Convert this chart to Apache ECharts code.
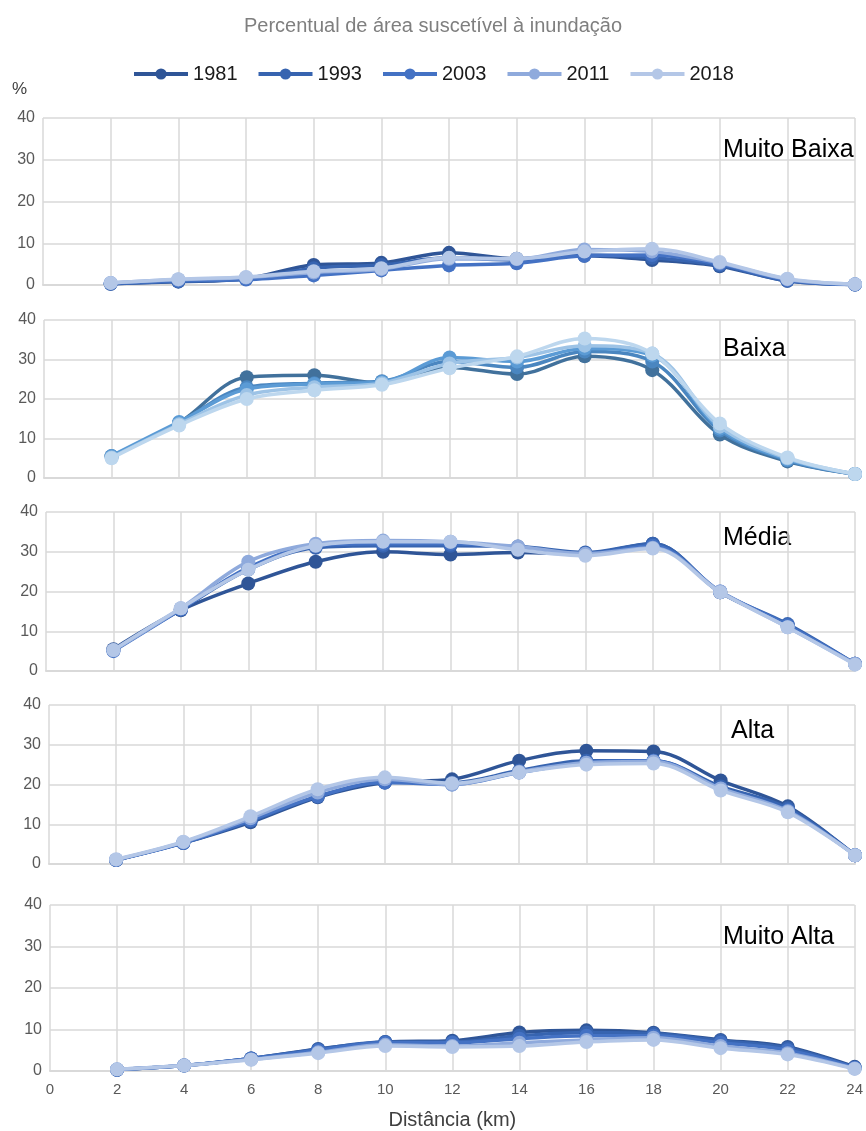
<!DOCTYPE html>
<html>
<head>
<meta charset="utf-8">
<script src="https://cdn.jsdelivr.net/npm/echarts@6/dist/echarts.min.js"></script>
<style>
html,body{margin:0;padding:0;background:#fff;}
#c{width:866px;height:1131px;}
</style>
</head>
<body>
<div id="c"></div>
<script>
// ---- data ----
const distances = [2, 4, 6, 8, 10, 12, 14, 16, 18, 20, 22, 24];
const years = ['1981', '1993', '2003', '2011', '2018'];
const panelNames = ['Muito Baixa', 'Baixa', 'Média', 'Alta', 'Muito Alta'];
const yTicks = [0, 10, 20, 30, 40];
const xTicks = [0, 2, 4, 6, 8, 10, 12, 14, 16, 18, 20, 22, 24];

// Muito Baixa
const mb1981 = [0.3, 0.8, 1.5, 4.8, 5.3, 7.7, 6.3, 7.0, 6.0, 4.5, 1.0, 0.1];
const mb1993 = [0.3, 0.9, 1.5, 4.0, 4.8, 6.5, 6.0, 7.2, 6.5, 4.7, 1.0, 0.1];
const mb2003 = [0.4, 1.0, 1.3, 2.3, 3.5, 4.7, 5.2, 7.0, 7.2, 5.0, 1.2, 0.1];
const mb2011 = [0.5, 1.3, 1.8, 3.0, 3.8, 6.3, 6.2, 8.5, 8.0, 5.3, 1.4, 0.2];
const mb2018 = [0.5, 1.4, 1.9, 3.3, 4.0, 6.5, 6.3, 8.0, 8.7, 5.5, 1.5, 0.2];
// Baixa
const b1981 = [5.5, 14.0, 25.5, 26.0, 24.0, 28.0, 26.3, 30.8, 27.3, 11.0, 4.2, 1.0];
const b1993 = [5.5, 14.0, 23.0, 24.0, 24.5, 29.5, 28.0, 32.0, 29.5, 12.0, 4.5, 1.0];
const b2003 = [5.6, 14.2, 22.5, 23.8, 24.3, 30.5, 29.5, 32.8, 31.0, 12.5, 4.7, 1.0];
const b2011 = [5.2, 13.6, 21.0, 23.0, 24.0, 29.0, 30.5, 33.5, 31.5, 13.0, 5.0, 1.0];
const b2018 = [5.0, 13.3, 20.0, 22.2, 23.6, 27.8, 30.8, 35.3, 31.5, 13.8, 5.2, 1.0];
// Média
const m1981 = [5.5, 15.3, 22.0, 27.5, 30.0, 29.3, 29.8, 29.5, 32.0, 19.8, 11.5, 1.8];
const m1993 = [5.2, 15.5, 25.5, 31.0, 31.5, 31.5, 31.3, 29.8, 32.0, 19.8, 11.8, 1.8];
const m2003 = [5.0, 15.5, 26.0, 31.5, 32.0, 32.0, 31.0, 29.5, 31.5, 20.0, 11.5, 1.8];
const m2011 = [5.2, 15.8, 27.5, 32.0, 32.8, 32.5, 31.3, 29.5, 31.0, 20.0, 11.0, 1.8];
const m2018 = [5.3, 15.8, 25.5, 31.5, 32.5, 32.5, 30.5, 29.0, 30.8, 19.8, 11.0, 1.6];
// Alta
const a1981 = [1.0, 5.3, 10.5, 16.8, 20.5, 21.3, 26.0, 28.5, 28.3, 21.0, 14.5, 2.2];
const a1993 = [1.0, 5.3, 10.8, 17.0, 20.5, 20.5, 23.5, 26.0, 26.0, 19.5, 14.0, 2.2];
const a2003 = [1.0, 5.3, 11.0, 17.0, 20.5, 20.0, 23.0, 25.5, 26.0, 19.0, 13.5, 2.2];
const a2011 = [1.1, 5.5, 11.5, 18.0, 21.3, 20.0, 23.2, 25.5, 25.8, 19.0, 13.3, 2.2];
const a2018 = [1.2, 5.6, 12.0, 18.8, 21.8, 20.3, 23.0, 25.0, 25.3, 18.5, 13.0, 2.2];
// Muito Alta
const ma1981 = [0.3, 1.3, 3.0, 5.3, 7.0, 7.3, 9.3, 9.8, 9.2, 7.5, 5.8, 1.0];
const ma1993 = [0.3, 1.3, 3.0, 5.2, 7.0, 7.0, 8.5, 9.3, 9.0, 7.3, 5.5, 0.8];
const ma2003 = [0.3, 1.3, 3.0, 5.0, 6.8, 6.8, 7.8, 8.5, 8.5, 6.8, 5.0, 0.8];
const ma2011 = [0.4, 1.4, 2.8, 4.5, 6.3, 6.0, 6.8, 7.5, 8.0, 6.0, 4.3, 0.6];
const ma2018 = [0.4, 1.3, 2.7, 4.3, 6.0, 5.8, 6.0, 7.0, 7.5, 5.5, 4.0, 0.5];

const panelData = [
  [mb1981, mb1993, mb2003, mb2011, mb2018],
  [b1981, b1993, b2003, b2011, b2018],
  [m1981, m1993, m2003, m2011, m2018],
  [a1981, a1993, a2003, a2011, a2018],
  [ma1981, ma1993, ma2003, ma2011, ma2018]
];

// ---- styles ----
const FONT = 'Liberation Sans, Arial, sans-serif';
const mainColors = ['#2F5597', '#3764B0', '#4472C4', '#8FAADC', '#B4C7E7'];
const baixaColors = ['#41719C', '#4A86C0', '#5B9BD5', '#9DC3E6', '#BDD7EE'];
const panelColors = [mainColors, baixaColors, mainColors, mainColors, mainColors];
const grids = [
  {left: 43, top: 118, height: 167},
  {left: 44, top: 320, height: 158},
  {left: 46, top: 512, height: 159},
  {left: 49, top: 705, height: 159},
  {left: 50, top: 905, height: 170}
];
const labelPos = [
  {x: 723, y: 150}, {x: 723, y: 349}, {x: 723, y: 538}, {x: 731, y: 731}, {x: 723, y: 937}
];

const option = {
  backgroundColor: '#fff',
  animation: false,
  title: {
    text: 'Percentual de área suscetível à inundação',
    left: 'center', top: 11,
    textStyle: {fontFamily: FONT, fontSize: 20, fontWeight: 'normal', color: '#7F7F7F'}
  },
  legend: {
    top: 59, left: 'center',
    itemWidth: 54, itemHeight: 14, itemGap: 19,
    lineStyle: {width: 4},
    textStyle: {fontFamily: FONT, fontSize: 20, color: '#1A1A1A'},
    data: years.map(y => ({name: y}))
  },
  grid: grids.map(g => ({left: g.left, right: 11, top: g.top, height: g.height, containLabel: false})),
  xAxis: grids.map((g, i) => ({
    type: 'value', gridIndex: i, min: 0, max: 24, interval: 2,
    axisLine: {show: true, lineStyle: {color: '#D9D9D9', width: 2}},
    axisTick: {show: false},
    axisLabel: {show: i === 4, color: '#595959', fontFamily: FONT, fontSize: 15, margin: 11},
    splitLine: {show: true, lineStyle: {color: '#D9D9D9', width: 1.5}},
    name: i === 4 ? 'Distância (km)' : '',
    nameLocation: 'middle', nameGap: 39,
    nameTextStyle: {fontFamily: FONT, fontSize: 20, color: '#404040'}
  })),
  yAxis: grids.map((g, i) => ({
    type: 'value', gridIndex: i, min: 0, max: 40, interval: 10,
    axisLine: {show: false}, axisTick: {show: false},
    axisLabel: {color: '#595959', fontFamily: FONT, fontSize: 16, margin: 8},
    splitLine: {show: true, lineStyle: {color: '#D9D9D9', width: 1.5}}
  })),
  graphic: [
    {type: 'text', left: 12, top: 81, style: {text: '%', fontFamily: FONT, fontSize: 17, fill: '#404040'}}
  ].concat(panelNames.map((n, i) => ({
    type: 'text', left: labelPos[i].x, top: labelPos[i].y - 12,
    style: {text: n, fontFamily: FONT, fontSize: 25, fill: '#000'}
  }))),
  series: []
};

panelData.forEach((sets, p) => {
  sets.forEach((vals, k) => {
    option.series.push({
      name: years[k], type: 'line', xAxisIndex: p, yAxisIndex: p,
      data: distances.map((d, j) => [d, vals[j]]),
      smooth: 0.35, symbol: 'circle', symbolSize: 14, clip: false,
      lineStyle: {width: 3.5, color: panelColors[p][k]},
      itemStyle: {color: panelColors[p][k]},
      z: 2 + k
    });
  });
});

const chart = echarts.init(document.getElementById('c'), null, {renderer: 'canvas'});
chart.setOption(option);
</script>
</body>
</html>
